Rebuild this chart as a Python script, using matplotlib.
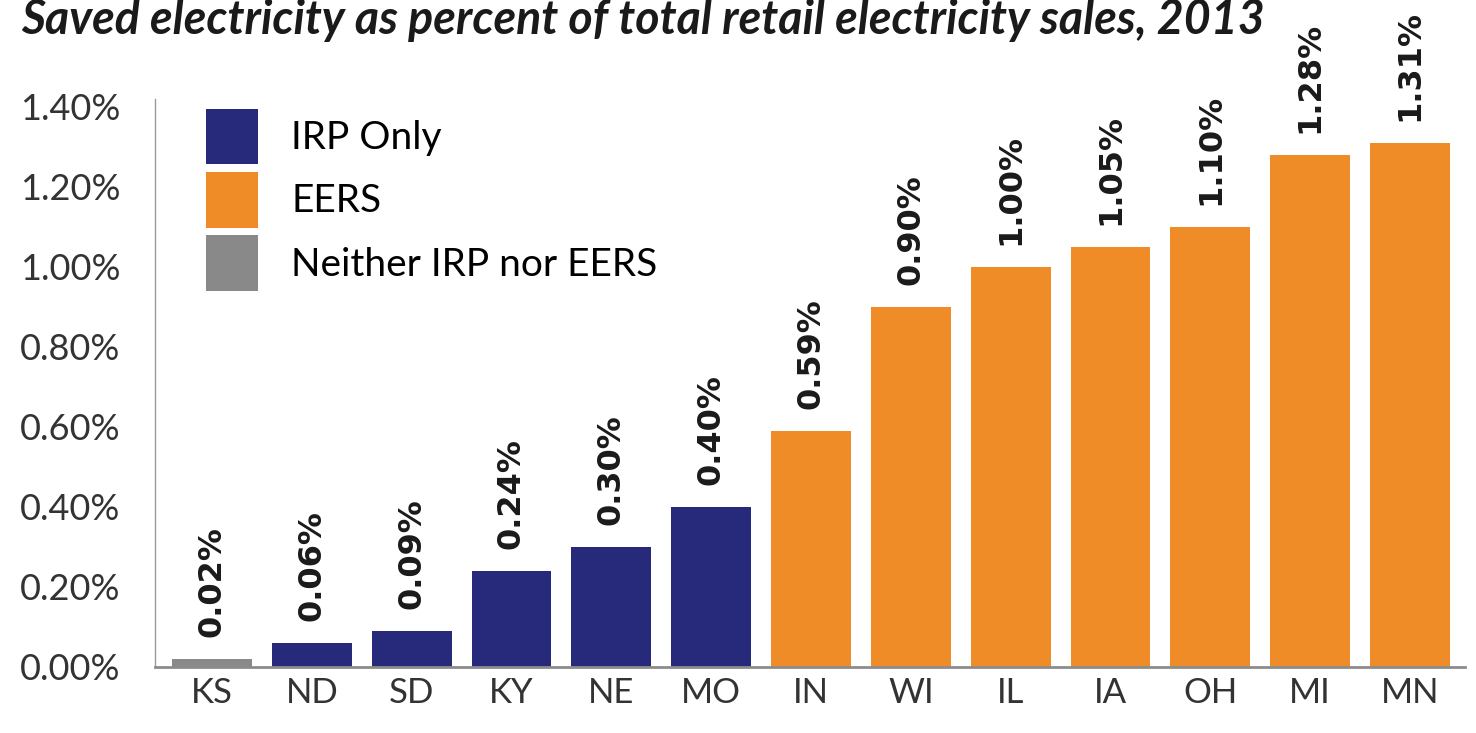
import matplotlib
matplotlib.use("Agg")
import matplotlib.pyplot as plt
from matplotlib.patches import Patch

# data
states = ["KS", "ND", "SD", "KY", "NE", "MO", "IN", "WI", "IL", "IA", "OH", "MI", "MN"]
values = [0.02, 0.06, 0.09, 0.24, 0.30, 0.40, 0.59, 0.90, 1.00, 1.05, 1.10, 1.28, 1.31]
groups = ["Neither", "IRP", "IRP", "IRP", "IRP", "IRP",
          "EERS", "EERS", "EERS", "EERS", "EERS", "EERS", "EERS"]
yticks = [0.0, 0.2, 0.4, 0.6, 0.8, 1.0, 1.2, 1.4]

colors = {"IRP": "#272a7a", "EERS": "#f08c28", "Neither": "#898989"}
legend_labels = {"IRP": "IRP Only", "EERS": "EERS", "Neither": "Neither IRP nor EERS"}

plt.rcParams["font.family"] = ["Lato", "DejaVu Sans"]

fig = plt.figure(figsize=(14.76, 7.33), dpi=100)
ymax = 1.42
bottom = 66 / 733
height = ymax * 400 / 733
ax = fig.add_axes([155 / 1476, bottom, 1310 / 1476, height])

x = range(len(states))
ax.bar(x, values, width=0.8, color=[colors[g] for g in groups])

for i, v in enumerate(values):
    ax.annotate(f"{v:.2f}%", (i, v), xytext=(0, 16), textcoords="offset points",
                rotation=90, ha="center", va="bottom", fontsize=23,
                fontweight="bold", family="DejaVu Sans", color="#1a1a1a",
                annotation_clip=False)

ax.set_xlim(-0.57, 12.55)
ax.set_ylim(0, ymax)
ax.set_yticks(yticks)
ax.set_yticklabels([f"{t:.2f}%" for t in yticks], fontsize=26, color="#333333")
ax.set_xticks(list(x))
ax.set_xticklabels(states, fontsize=25, color="#333333")
ax.tick_params(length=0)
ax.tick_params(axis="y", pad=25)
ax.tick_params(axis="x", pad=7)

for s in ["top", "right"]:
    ax.spines[s].set_visible(False)
ax.spines["left"].set_color("#999999")
ax.spines["left"].set_linewidth(1.0)
ax.spines["bottom"].set_color("#8c8c8c")
ax.spines["bottom"].set_linewidth(2.0)

handles = [Patch(facecolor=colors[k], label=legend_labels[k]) for k in ["IRP", "EERS", "Neither"]]
ax.legend(handles=handles, loc="upper left", bbox_to_anchor=(0.027, 1.01),
          frameon=False, fontsize=28, handlelength=1.35, handleheight=1.82,
          labelspacing=0.2, handletextpad=0.85, borderaxespad=0)

fig.text(0.014, 1 - 34 / 733, "Saved electricity as percent of total retail electricity sales, 2013",
         fontsize=33.5, fontweight="bold", fontstyle="italic", color="#1a1a1a",
         va="baseline", ha="left")

fig.savefig("out.png", dpi=100)
